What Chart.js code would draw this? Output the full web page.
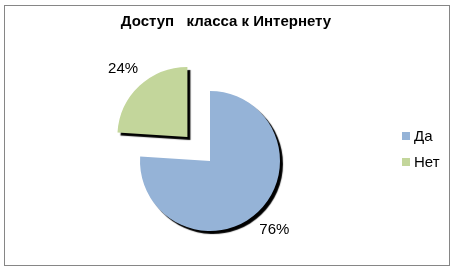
<!DOCTYPE html>
<html>
<head>
<meta charset="utf-8">
<script src="https://cdn.jsdelivr.net/npm/chart.js@4/dist/chart.umd.min.js"></script>
<style>
    html, body { margin: 0; padding: 0; background: #fff; overflow: hidden; width: 454px; height: 270px; }
    body { font-family: 'Liberation Sans', Arial, sans-serif; color: #000; }
    #frame {
        position: absolute; left: 4px; top: 5px; width: 446px; height: 261px;
        box-sizing: border-box; border: 1px solid #868686; pointer-events: none;
    }
    #chartDostup { position: absolute; left: 0; top: 0; }
    .chart-title {
        position: absolute; left: 0; top: 12px; width: 452px;
        text-align: center; font-size: 15px; font-weight: bold; white-space: pre;
    }
    .chart-legend { position: absolute; left: 402px; top: 127px; font-size: 15px; }
    .chart-legend .item { display: flex; align-items: center; height: 17px; margin-bottom: 9px; }
    .chart-legend .box { width: 8px; height: 8px; margin-right: 4px; }
</style>
</head>
<body>
<div id="frame"></div>
<canvas id="chartDostup" width="454" height="270"></canvas>
<div class="chart-title" id="chartTitle"></div>
<div class="chart-legend" id="chartLegend"></div>
<script>
// Chart data
const titleText = 'Доступ   класса к Интернету';
const categories = ['Да', 'Нет'];
const percents = [76, 24];
const sliceColors = ['#95B3D7', '#C3D69B'];
const explode = [0, 132]; // Chart.js moves a slice by offset / 4

const fontFamily = "'Liberation Sans', Arial, sans-serif";

// Shadow under the slices and percent labels outside them
const sliceExtras = {
    id: 'sliceExtras',
    beforeDatasetsDraw(chart) {
        const ctx = chart.ctx;
        ctx.save();
        ctx.shadowColor = '#000';
        ctx.shadowOffsetX = 3;
        ctx.shadowOffsetY = 3;
        ctx.shadowBlur = 1;
    },
    afterDatasetsDraw(chart) {
        const ctx = chart.ctx;
        ctx.restore();
        const meta = chart.getDatasetMeta(0);
        const values = chart.data.datasets[0].data;
        ctx.save();
        ctx.font = '15px ' + fontFamily;
        ctx.fillStyle = '#000';
        ctx.textAlign = 'center';
        ctx.textBaseline = 'middle';
        meta.data.forEach((arc, i) => {
            const p = arc.getProps(['x', 'y', 'startAngle', 'endAngle', 'outerRadius'], true);
            const mid = (p.startAngle + p.endAngle) / 2;
            const r = p.outerRadius + (arc.options.offset || 0) / 4 + 24;
            ctx.fillText(values[i] + '%', p.x + Math.cos(mid) * r, p.y + Math.sin(mid) * r);
        });
        ctx.restore();
    }
};

const ctx = document.getElementById('chartDostup').getContext('2d');
const chart = new Chart(ctx, {
    type: 'pie',
    data: {
        labels: categories,
        datasets: [{
            data: percents,
            backgroundColor: sliceColors,
            borderWidth: 0,
            offset: explode
        }]
    },
    options: {
        responsive: false,
        animation: false,
        radius: 70,
        layout: {
            padding: { left: 0, right: 34, top: 52, bottom: 0 }
        },
        plugins: {
            legend: { display: false },
            tooltip: { enabled: false }
        }
    },
    plugins: [sliceExtras]
});

// Title and legend as html
document.getElementById('chartTitle').textContent = titleText;
const legendEl = document.getElementById('chartLegend');
chart.data.labels.forEach((label, i) => {
    const item = document.createElement('div');
    item.className = 'item';
    const box = document.createElement('span');
    box.className = 'box';
    box.style.background = chart.data.datasets[0].backgroundColor[i];
    const text = document.createElement('span');
    text.textContent = label;
    item.appendChild(box);
    item.appendChild(text);
    legendEl.appendChild(item);
});
</script>
</body>
</html>
